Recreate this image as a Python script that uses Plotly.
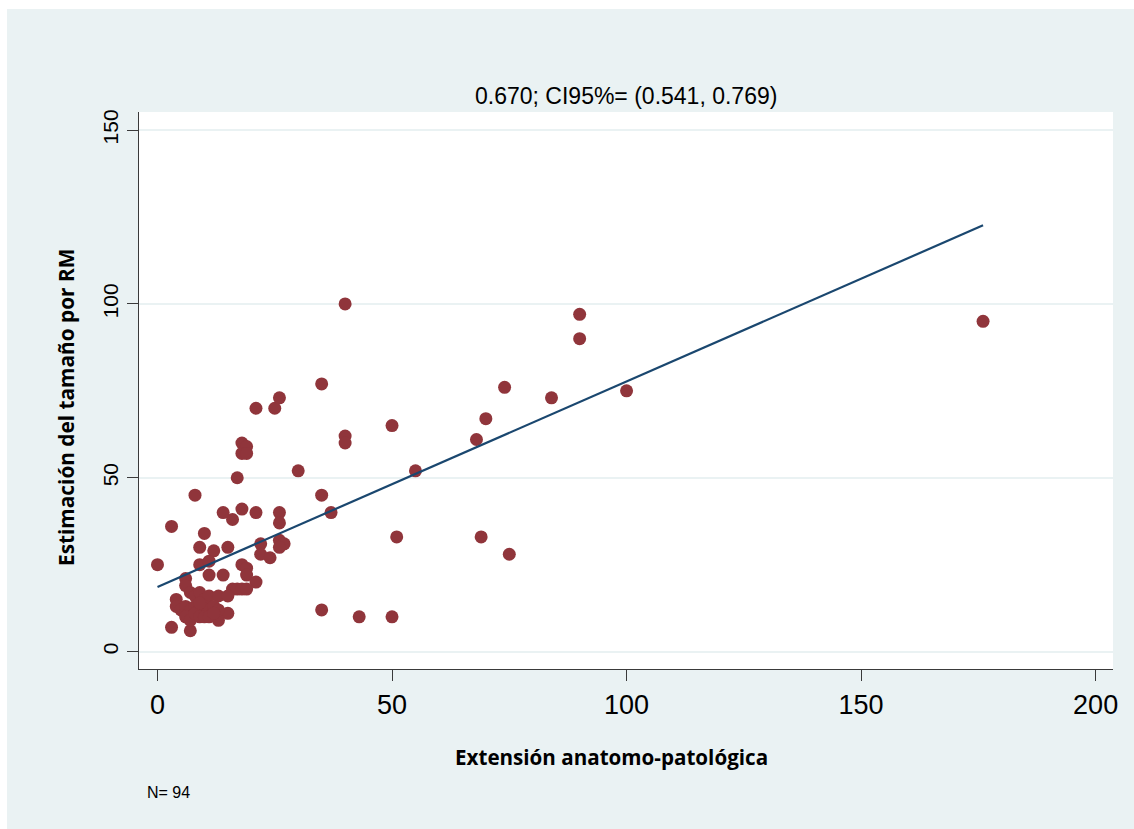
import plotly.graph_objects as go

# Pathological extension (x) vs. MRI size estimate (y), N = 94
x_ext = [
    40, 35, 21, 25, 26, 18, 19, 18, 19, 17, 30, 40, 40, 50, 55, 68, 70, 74, 84, 90,
    90, 100, 176, 35, 37, 51, 69, 75, 35, 43, 50,
    26, 26, 21, 18, 16, 14, 10, 3, 8, 0, 9, 12, 15, 22, 26, 27, 26, 22, 24,
    9, 11, 18, 19, 19, 11, 14, 21, 6, 3, 7, 4, 4, 15, 13,
    16, 17, 18, 19,
    6, 7, 8, 9, 10, 11, 13, 15,
    5, 6, 7, 8, 9, 10, 11, 12, 13,
    6, 7, 8, 9, 10, 11, 12, 9,
]
y_rm = [
    100, 77, 70, 70, 73, 60, 59, 57, 57, 50, 52, 62, 60, 65, 52, 61, 67, 76, 73, 97,
    90, 75, 95, 45, 40, 33, 33, 28, 12, 10, 10,
    40, 37, 40, 41, 38, 40, 34, 36, 45, 25, 30, 29, 30, 31, 32, 31, 30, 28, 27,
    25, 26, 25, 24, 22, 22, 22, 20, 21, 7, 6, 15, 13, 11, 9,
    18, 18, 18, 18,
    19, 17, 16, 17, 15, 16, 16, 16,
    12, 13, 12, 13, 12, 13, 12, 13, 12,
    10, 9, 11, 10, 10, 10, 11, 14,
]

# Linear fit (lfit) parameters
fit_intercept = 18.6
fit_slope = 0.591

x_ticks = [0, 50, 100, 150, 200]
y_ticks = [0, 50, 100, 150]

chart_title = "0.670; CI95%= (0.541, 0.769)"
x_title = "Extensión anatomo-patológica"
y_title = "Estimación del tamaño por RM"
note_text = "N= 94"

BG = "#EAF2F3"
MAROON = "#90353B"
NAVY = "#1A476F"

W, H = 1134, 829
ML, MR, MT, MB = 139, 21, 112, 160
PW, PH = W - ML - MR, H - MT - MB


def px_x(p):
    return (p - ML) / PW


def px_y(p):
    return (H - MB - p) / PH


fig = go.Figure()
fig.add_trace(go.Scatter(
    x=x_ext, y=y_rm, mode="markers",
    marker=dict(size=13, color=MAROON, line=dict(width=0)),
    showlegend=False, hoverinfo="x+y",
))

fit_x = [min(x_ext), max(x_ext)]
fit_y = [fit_intercept + fit_slope * v for v in fit_x]
fig.add_trace(go.Scatter(
    x=fit_x, y=fit_y, mode="lines",
    line=dict(color=NAVY, width=2.2),
    showlegend=False, hoverinfo="skip",
))

fig.update_layout(
    width=W, height=H, autosize=False,
    margin=dict(l=ML, r=MR, t=MT, b=MB, pad=0),
    paper_bgcolor=BG, plot_bgcolor="white",
    font=dict(family="Liberation Sans, Arial, sans-serif", color="black"),
    showlegend=False,
)

fig.update_xaxes(
    range=[-3.94, 203.7], tickvals=x_ticks, ticktext=[str(v) for v in x_ticks],
    showgrid=False, zeroline=False,
    showline=True, linecolor="#3a3a3a", linewidth=1.3,
    ticks="outside", ticklen=11, tickwidth=1.3, tickcolor="#3a3a3a",
    tickfont=dict(size=27, family="Liberation Sans, Arial, sans-serif", color="black"),
)
fig.update_yaxes(
    range=[-5.0, 155.2], tickvals=y_ticks, ticktext=[str(v) for v in y_ticks],
    showgrid=True, gridcolor=BG, gridwidth=2, zeroline=False,
    showline=True, linecolor="#3a3a3a", linewidth=1.3,
    ticks="outside", ticklen=11, tickwidth=1.3, tickcolor="#3a3a3a",
    tickangle=-90,
    tickfont=dict(size=21, family="Liberation Sans, Arial, sans-serif", color="black"),
)

annotations = [
    dict(text=chart_title, x=0.5, y=px_y(96), xref="paper", yref="paper",
         xanchor="center", yanchor="middle", showarrow=False,
         font=dict(size=23, family="Liberation Sans, Arial, sans-serif", color="black")),
    dict(text="<b>" + x_title + "</b>", x=px_x(611), y=px_y(757), xref="paper", yref="paper",
         xanchor="center", yanchor="middle", showarrow=False,
         font=dict(size=20.6, family="Open Sans, sans-serif", color="black")),
    dict(text="<b>" + y_title + "</b>", x=px_x(66), y=px_y(408), xref="paper", yref="paper",
         xanchor="center", yanchor="middle", showarrow=False, textangle=-90,
         font=dict(size=20.8, family="Open Sans, sans-serif", color="black")),
    dict(text=note_text, x=px_x(145), y=px_y(792), xref="paper", yref="paper",
         xanchor="left", yanchor="middle", showarrow=False,
         font=dict(size=16, family="Liberation Sans, Arial, sans-serif", color="black")),
]
fig.update_layout(annotations=annotations)

# thin white frame along the top and left edges of the page
fig.update_layout(shapes=[
    dict(type="rect", xref="paper", yref="paper", layer="above",
         x0=px_x(0), x1=px_x(W), y0=px_y(9), y1=px_y(0),
         fillcolor="white", line=dict(width=0)),
    dict(type="rect", xref="paper", yref="paper", layer="above",
         x0=px_x(0), x1=px_x(7), y0=px_y(H), y1=px_y(0),
         fillcolor="white", line=dict(width=0)),
])

fig.write_html("out.html")
